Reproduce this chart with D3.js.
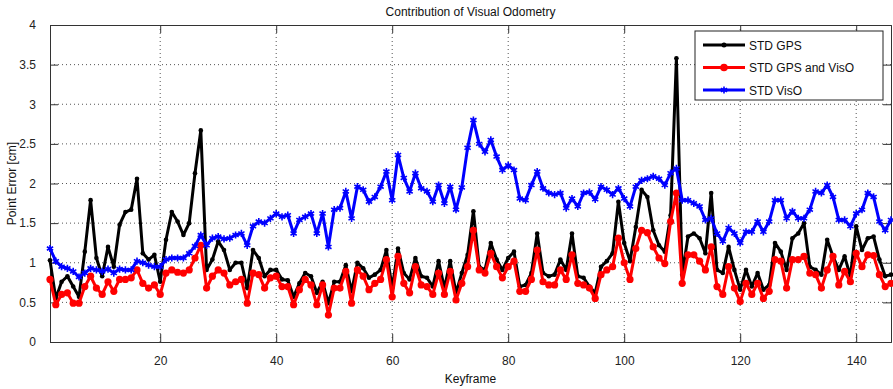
<!DOCTYPE html>
<html>
<head>
<meta charset="utf-8">
<script src="https://cdn.jsdelivr.net/npm/d3@7"></script>
<style>
  body { margin: 0; background: #fff; }
  svg { font-family: "Liberation Sans", Arial, sans-serif; }
</style>
</head>
<body>
<div id="chart"></div>
<script>
const keyframes = d3.range(1, 147);

const stdGps = [
  1.03,0.55,0.76,0.83,0.70,0.57,1.14,1.79,1.06,0.83,
  1.20,0.95,1.48,1.64,1.67,2.06,1.12,1.04,1.10,0.76,
  1.29,1.64,1.52,1.35,1.50,2.13,2.67,0.91,1.04,1.27,
  1.16,0.91,1.00,1.00,0.68,1.16,1.06,0.83,0.91,0.91,
  0.79,0.78,0.57,0.74,0.87,0.83,0.62,0.76,0.49,0.76,
  0.76,0.97,0.64,1.00,0.93,0.81,0.85,0.91,1.16,0.68,
  1.18,0.87,0.79,1.06,0.83,0.81,0.70,1.02,0.68,1.02,
  0.62,0.87,1.10,1.65,0.95,0.91,1.25,1.04,0.91,1.06,
  1.14,0.70,0.72,0.87,1.37,0.87,0.83,0.85,1.04,0.91,
  1.37,0.83,0.81,0.70,0.62,0.95,1.02,1.12,1.77,1.25,
  1.02,1.45,1.92,1.83,1.41,1.22,1.14,1.60,3.58,0.85,
  1.33,1.37,1.31,1.12,1.88,0.91,0.87,1.20,0.91,0.66,
  0.91,0.70,0.87,0.66,0.72,1.25,1.14,0.91,1.31,1.37,
  1.50,0.95,0.91,0.85,1.29,1.08,0.91,1.08,0.83,1.46,
  1.16,1.31,1.33,1.04,0.83,0.85
];

const stdGpsVisO = [
  0.79,0.47,0.60,0.62,0.49,0.49,0.70,0.83,0.68,0.60,
  0.76,0.64,0.79,0.79,0.81,0.91,0.74,0.68,0.72,0.60,
  0.87,0.91,0.88,0.87,0.91,1.06,1.22,0.68,0.83,0.91,
  0.87,0.72,0.76,0.79,0.49,0.87,0.85,0.68,0.81,0.83,
  0.70,0.70,0.47,0.66,0.79,0.72,0.47,0.72,0.34,0.68,
  0.68,0.89,0.49,0.91,0.83,0.66,0.74,0.79,1.04,0.57,
  1.08,0.74,0.62,0.95,0.72,0.70,0.60,0.87,0.60,0.89,
  0.53,0.74,0.95,1.41,0.91,0.87,1.12,0.95,0.81,0.95,
  1.02,0.64,0.64,0.79,1.16,0.76,0.72,0.72,0.91,0.79,
  1.10,0.74,0.72,0.68,0.55,0.85,0.91,0.95,1.31,1.00,
  0.79,1.18,1.41,1.38,1.20,1.06,0.99,1.52,1.88,0.74,
  1.10,1.10,1.02,0.91,1.20,0.70,0.60,0.95,0.68,0.51,
  0.74,0.60,0.74,0.55,0.64,1.04,1.02,0.68,1.04,1.04,
  1.08,0.87,0.85,0.68,0.91,1.08,0.72,0.89,0.76,1.12,
  0.95,1.10,1.09,0.85,0.70,0.74
];

const stdVisO = [
  1.18,1.02,0.95,0.93,0.89,0.82,0.87,0.93,0.91,0.89,
  0.92,0.87,0.92,0.91,0.91,1.02,1.00,0.97,0.95,0.95,
  1.04,1.06,1.06,1.06,1.12,1.21,1.35,1.22,1.31,1.33,
  1.30,1.31,1.35,1.37,1.22,1.46,1.52,1.50,1.56,1.62,
  1.58,1.60,1.37,1.54,1.58,1.62,1.37,1.62,1.20,1.67,
  1.69,1.90,1.56,1.96,1.92,1.77,1.83,1.96,2.15,1.79,
  2.36,2.07,1.90,2.13,1.94,1.90,1.77,1.98,1.75,1.96,
  1.67,1.95,2.45,2.80,2.50,2.40,2.55,2.34,2.17,2.23,
  2.17,1.81,1.79,1.98,2.15,1.94,1.88,1.86,1.88,1.69,
  1.81,1.71,1.88,1.89,1.80,1.96,1.92,1.86,1.94,1.81,
  1.71,1.96,2.04,2.06,2.09,2.06,1.98,2.13,2.19,1.79,
  1.79,1.75,1.71,1.54,1.56,1.37,1.27,1.44,1.37,1.25,
  1.39,1.39,1.52,1.39,1.52,1.79,1.79,1.56,1.65,1.56,
  1.56,1.67,1.90,1.88,1.98,1.83,1.54,1.54,1.46,1.62,
  1.67,1.88,1.83,1.52,1.41,1.54
];

const seriesNames = ['STD GPS', 'STD GPS and VisO', 'STD VisO'];
const xTicks = [20, 40, 60, 80, 100, 120, 140];
const yTicks = [0, 0.5, 1, 1.5, 2, 2.5, 3, 3.5, 4];

const W = 893, H = 389;
const margin = { top: 25, right: 2, bottom: 47, left: 50 };
const width = W - margin.left - margin.right;
const height = H - margin.top - margin.bottom;

const svg = d3.select('#chart').append('svg')
  .attr('width', W).attr('height', H);

const g = svg.append('g').attr('transform', `translate(${margin.left},${margin.top})`);

const x = d3.scaleLinear().domain([1, 146]).range([0, width]);
const y = d3.scaleLinear().domain([0, 4]).range([height, 0]);

// dotted grid
g.selectAll('.vgrid').data(xTicks).enter().append('line')
  .attr('x1', d => x(d)).attr('x2', d => x(d))
  .attr('y1', 0).attr('y2', height)
  .attr('stroke', '#555').attr('stroke-width', 1).attr('stroke-dasharray', '1,3');
g.selectAll('.hgrid').data(yTicks.filter(d => d > 0 && d < 4)).enter().append('line')
  .attr('x1', 0).attr('x2', width)
  .attr('y1', d => y(d)).attr('y2', d => y(d))
  .attr('stroke', '#555').attr('stroke-width', 1).attr('stroke-dasharray', '1,3');

// axes (ticks inside, like matlab)
const tk = 8;
const xAxis = d3.axisBottom(x).tickValues(xTicks).tickSize(-tk).tickPadding(tk + 6);
const yAxis = d3.axisLeft(y).tickValues(yTicks).tickSize(-tk).tickPadding(tk + 6).tickFormat(d3.format('~g'));
const xTop = d3.axisTop(x).tickValues(xTicks).tickSize(-tk).tickFormat('');
const yRight = d3.axisRight(y).tickValues(yTicks).tickSize(-tk).tickFormat('');

g.append('g').attr('transform', `translate(0,${height})`).call(xAxis);
g.append('g').call(yAxis);
g.append('g').call(xTop);
g.append('g').attr('transform', `translate(${width},0)`).call(yRight);

g.selectAll('.domain').attr('stroke', '#333').attr('stroke-width', 1);
g.selectAll('.tick line').attr('stroke', '#333');
g.selectAll('.tick text').attr('font-size', 12).attr('fill', '#222')
  .attr('font-family', '"Liberation Sans", Arial, sans-serif');

const line = d3.line().x((d, i) => x(keyframes[i])).y(d => y(d));

// STD GPS (black)
g.append('path').datum(stdGps)
  .attr('fill', 'none').attr('stroke', '#000').attr('stroke-width', 3)
  .attr('stroke-linejoin', 'round').attr('d', line);
g.selectAll('.gpsDot').data(stdGps).enter().append('circle')
  .attr('cx', (d, i) => x(keyframes[i])).attr('cy', d => y(d))
  .attr('r', 2.3).attr('fill', '#000');

// STD GPS and VisO (red)
g.append('path').datum(stdGpsVisO)
  .attr('fill', 'none').attr('stroke', '#ff0000').attr('stroke-width', 3)
  .attr('stroke-linejoin', 'round').attr('d', line);
g.selectAll('.redDot').data(stdGpsVisO).enter().append('circle')
  .attr('cx', (d, i) => x(keyframes[i])).attr('cy', d => y(d))
  .attr('r', 3.6).attr('fill', '#ff0000');

// STD VisO (blue)
const star = d3.symbol().type(d3.symbolAsterisk).size(36);
g.append('path').datum(stdVisO)
  .attr('fill', 'none').attr('stroke', '#0000ff').attr('stroke-width', 3)
  .attr('stroke-linejoin', 'round').attr('d', line);
g.selectAll('.blueStar').data(stdVisO).enter().append('path')
  .attr('transform', (d, i) => `translate(${x(keyframes[i])},${y(d)})`)
  .attr('d', star).attr('fill', 'none').attr('stroke', '#0000ff').attr('stroke-width', 1.6);

// title and labels
svg.append('text').attr('x', margin.left + width / 2).attr('y', 16)
  .attr('text-anchor', 'middle').attr('font-size', 12).attr('fill', '#111')
  .text('Contribution of Visual Odometry');
svg.append('text').attr('x', margin.left + width / 2).attr('y', 383)
  .attr('text-anchor', 'middle').attr('font-size', 12).attr('fill', '#111')
  .text('Keyframe');
svg.append('text').attr('transform', `translate(16,${margin.top + height / 2}) rotate(-90)`)
  .attr('text-anchor', 'middle').attr('font-size', 12).attr('fill', '#111')
  .text('Point Error [cm]');

// legend
const lg = svg.append('g').attr('transform', 'translate(695,31)');
lg.append('rect').attr('width', 188).attr('height', 69)
  .attr('fill', '#fff').attr('stroke', '#222').attr('stroke-width', 1);
const colors = ['#000', '#ff0000', '#0000ff'];
seriesNames.forEach((name, i) => {
  const ly = 14 + i * 22.5;
  lg.append('line').attr('x1', 8).attr('x2', 50).attr('y1', ly).attr('y2', ly)
    .attr('stroke', colors[i]).attr('stroke-width', 3);
  if (i === 0) {
    lg.append('circle').attr('cx', 29).attr('cy', ly).attr('r', 2.5).attr('fill', colors[i]);
  } else if (i === 1) {
    lg.append('circle').attr('cx', 29).attr('cy', ly).attr('r', 3.8).attr('fill', colors[i]);
  } else {
    lg.append('path').attr('transform', `translate(29,${ly})`).attr('d', star)
      .attr('fill', 'none').attr('stroke', colors[i]).attr('stroke-width', 1.6);
  }
  lg.append('text').attr('x', 54).attr('y', ly + 4.5).attr('font-size', 12)
    .attr('fill', '#111').text(name);
});
</script>
</body>
</html>
